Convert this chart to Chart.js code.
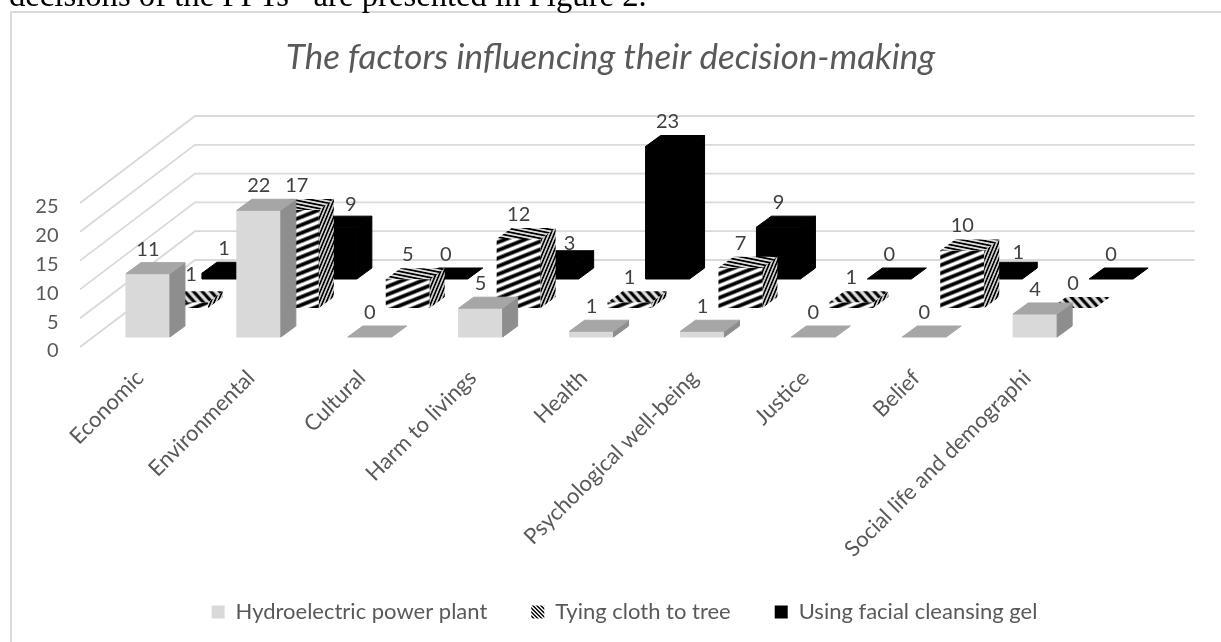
<!DOCTYPE html>
<html>
<head>
<meta charset="utf-8">
<style>
    html, body { margin: 0; padding: 0; background: #fff; overflow: hidden; }
    #page { position: relative; width: 1221px; height: 642px; overflow: hidden; }
    #body-text { position: absolute; left: 9px; top: -21px; font: 32.7px/33px "Liberation Serif", serif; color: #000; white-space: pre; }
    #chart { position: absolute; left: 0; top: 0; }
</style>
<script src="https://cdn.jsdelivr.net/npm/chart.js@4"></script>
</head>
<body>
<div id="page">
    <canvas id="chart" width="1221" height="642"></canvas>
    <div id="body-text">decisions of the PPTs   are presented in Figure 2.</div>
</div>
<script>
const categories = ["Economic", "Environmental", "Cultural", "Harm to livings", "Health", "Psychological well-being", "Justice", "Belief", "Social life and demographi"];
const hydroelectric = [11, 22, 0, 5, 1, 1, 0, 0, 4];
const tyingCloth = [1, 17, 5, 12, 1, 7, 1, 10, 0];
const facialGel = [1, 9, 0, 3, 23, 9, 0, 1, 0];

// depth of the fake 3D view, in pixels
const rowDx = 38, rowDy = 29;
const barDepthX = 15, barDepthY = 11;
const baseLift = 10;
const wallInset = 12.5;

// labels pushed aside so they clear the neighbouring bar, "row:category" -> [dx, dy]
const labelNudge = { "1:0": [5, -3], "2:1": [16, 2], "2:3": [13, 6], "2:7": [18, 4] };

// one horizontal black/white band, sheared per face with setTransform
function bandTile(light) {
    let tile = document.createElement("canvas");
    tile.width = 8;
    tile.height = 8;
    let c = tile.getContext("2d");
    let rows = ["#000", "#000", "#000", "#777", light, light, light, "#777"];
    rows.forEach(function (col, i) {
        c.fillStyle = col;
        c.fillRect(0, i, 8, 1);
    });
    return tile;
}

function bandPattern(light, a, b, d) {
    let p = document.createElement("canvas").getContext("2d").createPattern(bandTile(light), "repeat");
    p.setTransform(new DOMMatrix([a, b, 0, d, 0, 0]));
    return p;
}

const stripeFront = bandPattern("#fff", 1, -0.4, 1);
const stripeSide = bandPattern("#ccc", 1, -2.4, 1.05);
const stripeTop = bandPattern("#ddd", 1, 0.2, 0.45);
const stripeTopCoarse = bandPattern("#ddd", 1, 1.1, 1.2);
const stripeLegend = bandPattern("#fff", 0.5, 0.5, 0.5);

const faces = [
    { front: "#d9d9d9", top: "#a6a6a6", side: "#8e8e8e" },
    { front: stripeFront, top: stripeTop, side: stripeSide },
    { front: "#000", top: "#000", side: "#000" }
];

function poly(ctx, fill, pts) {
    ctx.fillStyle = fill;
    ctx.beginPath();
    pts.forEach(function (p, i) {
        if (i === 0) ctx.moveTo(p[0], p[1]);
        else ctx.lineTo(p[0], p[1]);
    });
    ctx.closePath();
    ctx.fill();
    // plain faces get an edge of their own colour, hides the seams
    if (typeof fill === "string") {
        ctx.strokeStyle = fill;
        ctx.lineWidth = 1;
        ctx.stroke();
    }
}

const wallPlugin = {
    id: "wall",
    // nudge the legend row a little right of the centre
    afterLayout: function (chart) {
        chart.legend.left += 14;
        chart.legend.right += 14;
    },
    beforeDatasetsDraw: function (chart) {
        let ctx = chart.ctx;
        let area = chart.chartArea;
        let yScale = chart.scales.y;
        let left = area.left - wallInset;
        let backX = left + rowDx * 3 + 1;
        let backRight = area.right + rowDx * 3 - 10;

        ctx.save();
        // frame of the chart, only top and left show
        ctx.strokeStyle = "#d9d9d9";
        ctx.lineWidth = 1.8;
        ctx.beginPath();
        ctx.moveTo(11, 642);
        ctx.lineTo(11, 12);
        ctx.lineTo(1221, 12);
        ctx.stroke();

        yScale.ticks.forEach(function (tick) {
            let y = yScale.getPixelForValue(tick.value);
            ctx.beginPath();
            ctx.moveTo(left, y);
            ctx.lineTo(backX, y - rowDy * 3);
            ctx.lineTo(backRight, y - rowDy * 3);
            ctx.stroke();
        });
        ctx.restore();
    },
    beforeDatasetDraw: function (chart, args) {
        let ctx = chart.ctx;
        let row = args.index;
        let face = faces[row];
        let values = chart.data.datasets[row].data;

        args.meta.data.forEach(function (bar, i) {
            let half = bar.width / 2;
            let l = bar.x - half + row * rowDx;
            let r = bar.x + half + row * rowDx;
            let lift = baseLift + row * rowDy;
            let bottom = bar.base - lift;
            let top = bar.y - lift;
            let topFill = (row === 1 && values[i] <= 1) ? stripeTopCoarse : face.top;

            if (values[i] > 0) {
                poly(ctx, face.front, [[l, top], [r, top], [r, bottom], [l, bottom]]);
                poly(ctx, face.side, [[r, top], [r + barDepthX, top - barDepthY], [r + barDepthX, bottom - barDepthY], [r, bottom]]);
            }
            poly(ctx, topFill, [[l, top], [l + barDepthX, top - barDepthY], [r + barDepthX, top - barDepthY], [r, top]]);
        });
        return false;
    },
    afterDatasetsDraw: function (chart) {
        let ctx = chart.ctx;
        ctx.save();
        ctx.font = "20px Lato";
        ctx.fillStyle = "#404040";
        ctx.textAlign = "center";
        ctx.textBaseline = "middle";
        chart.data.datasets.forEach(function (ds, row) {
            chart.getDatasetMeta(row).data.forEach(function (bar, i) {
                let nudge = labelNudge[row + ":" + i] || [0, 0];
                let y = bar.y - baseLift - row * rowDy - barDepthY - 13.5;
                ctx.fillText(String(ds.data[i]), bar.x + row * rowDx + nudge[0], y + nudge[1]);
            });
        });
        ctx.restore();
    }
};

new Chart(document.getElementById("chart").getContext("2d"), {
    type: "bar",
    plugins: [wallPlugin],
    data: {
        labels: categories,
        datasets: [
            { label: "Hydroelectric power plant", data: hydroelectric, backgroundColor: "#d9d9d9" },
            { label: "Tying cloth to tree", data: tyingCloth, backgroundColor: stripeLegend },
            { label: "Using facial cleansing gel", data: facialGel, backgroundColor: "#000" }
        ]
    },
    options: {
        responsive: false,
        animation: false,
        layout: { padding: { top: 0, left: 0, right: 0, bottom: 9 } },
        datasets: { bar: { grouped: false, categoryPercentage: 1, barPercentage: 0.3967 } },
        plugins: {
            tooltip: { enabled: false },
            title: {
                display: true,
                text: "The factors influencing their decision-making",
                color: "#595959",
                font: { family: "Lato", size: 35, style: "italic", weight: "normal" },
                padding: { top: 37, bottom: 124 }
            },
            legend: {
                position: "bottom",
                labels: {
                    color: "#595959",
                    font: { family: "Lato", size: 22 },
                    boxWidth: 13,
                    boxHeight: 13,
                    padding: 44
                }
            }
        },
        scales: {
            x: {
                grid: { display: false },
                border: { display: false },
                ticks: {
                    color: "#595959",
                    font: { family: "Lato", size: 22 },
                    minRotation: 45,
                    maxRotation: 45,
                    autoSkip: false,
                    labelOffset: -8,
                    padding: 10
                },
                afterFit: function (scale) { scale.height = 210; }
            },
            y: {
                min: 0,
                max: 25,
                grid: { display: false, drawTicks: false },
                border: { display: false },
                ticks: {
                    stepSize: 5,
                    color: "#595959",
                    font: { family: "Lato", size: 20 },
                    labelOffset: 4,
                    padding: 34
                },
                afterFit: function (scale) { scale.width = 92.5; }
            },
            // spacer so the title and legend stay centred on the whole chart
            spacer: {
                position: "right",
                grid: { display: false, drawTicks: false },
                border: { display: false },
                ticks: { display: false },
                afterFit: function (scale) { scale.width = 130.4; }
            }
        }
    }
});
</script>
</body>
</html>
